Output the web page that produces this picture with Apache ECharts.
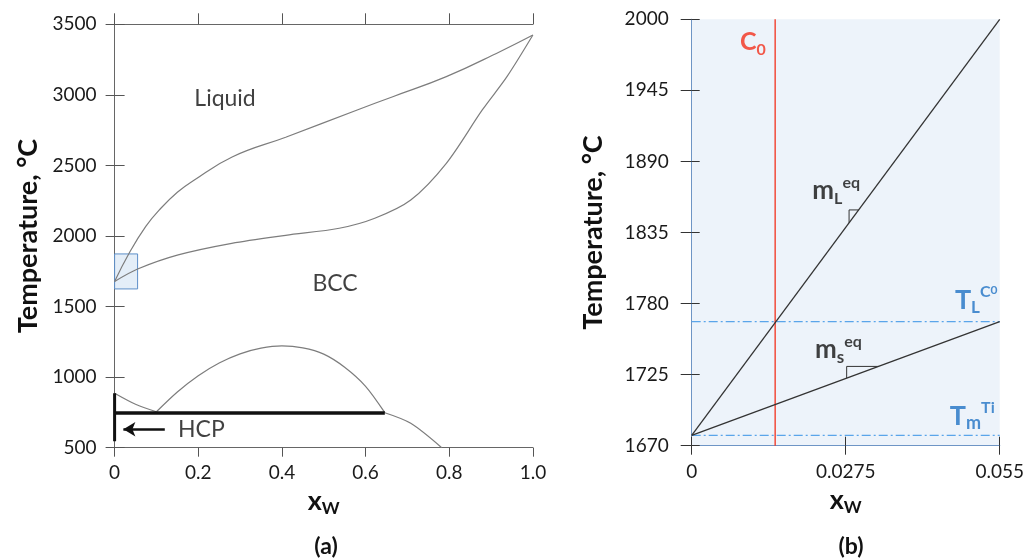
<!DOCTYPE html>
<html>
<head>
<meta charset="utf-8">
<script src="https://cdn.jsdelivr.net/npm/echarts@6/dist/echarts.min.js"></script>
<style>
  html, body { margin: 0; padding: 0; background: #ffffff; }
  #chart { width: 1027px; height: 560px; }
</style>
</head>
<body>
<div id="chart"></div>
<script>
// ---------- (a) Ti–W phase diagram, mole fraction of W vs temperature (°C) ----------
const liquidusX = [0, 0.035, 0.075, 0.11, 0.15, 0.187, 0.281, 0.409, 0.58, 0.665, 0.793, 0.921, 1.0];
const liquidusT = [1678, 1880, 2070, 2195, 2310, 2390, 2560, 2700, 2893, 2987, 3129, 3306, 3424];

const solidusX = [0, 0.055, 0.152, 0.28, 0.409, 0.537, 0.622, 0.708, 0.793, 0.879, 0.938, 1.0];
const solidusT = [1678, 1766, 1866, 1948, 2005, 2055, 2126, 2255, 2515, 2893, 3129, 3424];

// BCC miscibility gap dome
const domeX = [0.1, 0.15, 0.2, 0.25, 0.3, 0.35, 0.4, 0.45, 0.5, 0.55, 0.6, 0.646];
const domeT = [755, 895, 1010, 1100, 1165, 1205, 1221, 1207, 1163, 1070, 935, 748];

// HCP / BCC boundary near pure Ti and the W-rich BCC boundary below the eutectoid
const hcpBoundaryX = [0, 0.05, 0.1];
const hcpBoundaryT = [886, 808, 755];
const bccLowerX = [0.646, 0.708, 0.782];
const bccLowerT = [748, 673, 500];

// eutectoid isotherm and the narrow HCP field at x = 0
const eutectoidX = [0, 0.646];
const eutectoidT = 745;
const hcpEdgeT = [886, 545];

// region magnified in (b)
const zoomBoxX = [0, 0.055];
const zoomBoxT = [1625, 1873];

// arrow pointing at the HCP field
const hcpArrowX = [0.12, 0.021];
const hcpArrowT = 631;

const aXTicks = [0, 0.2, 0.4, 0.6, 0.8, 1.0];
const aXTickLabels = ['0', '0.2', '0.4', '0.6', '0.8', '1.0'];
const aYTicks = [500, 1000, 1500, 2000, 2500, 3000, 3500];

// ---------- (b) linearised dilute corner ----------
const dilX = [0, 0.055];
const liquidusLinT = [1678, 2000];
const solidusLinT = [1678, 1766];
const c0 = 0.0149;
const tLiquidusC0 = 1766;
const tMeltTi = 1678;
const slopeMarkL = [0.0281, 0.0298];
const slopeMarkS = [0.02767, 0.03335];

const bXTicks = [0, 0.0275, 0.055];
const bXTickLabels = ['0', '0.0275', '0.055'];
const bYTicks = [1670, 1725, 1780, 1835, 1890, 1945, 2000];

// panel (b) is plotted in scaled units so ticks fall on whole numbers
const XS = 10000;
const T0 = bYTicks[0];
const bx = v => Math.round(v * XS * 1000) / 1000;
const by = t => t - T0;

const FONT = 'Lato';
const BLUE = '#1f72c4';
const RED = '#f3301c';

function pairs(xs, ys) { return xs.map((x, i) => [x, ys[i]]); }
function lineAt(xs, ts, x) { return ts[0] + (ts[1] - ts[0]) * (x - xs[0]) / (xs[1] - xs[0]); }

function curve(data, opts) {
  return Object.assign({
    type: 'line', xAxisIndex: 0, yAxisIndex: 0, data: data,
    symbol: 'none', silent: true, smooth: 0.3,
    lineStyle: { color: '#7d7d7d', width: 1.2 }
  }, opts || {});
}

function frameAxes(grid, base, len) {
  return {
    gridIndex: grid,
    axisLine: { show: true, lineStyle: { color: base.line, width: 1 } },
    axisTick: { show: true, inside: false, length: len, lineStyle: { color: base.tick, width: 1 } },
    splitLine: { show: false }
  };
}

const tickLabelStyle = { fontFamily: FONT, fontSize: 19, color: '#1a1a1a' };
const yNameStyle = { fontFamily: FONT, fontSize: 27, fontWeight: 'bold', color: '#111' };
const xNameRich = {
  x: { fontFamily: FONT, fontSize: 27, fontWeight: 'bold', color: '#111', lineHeight: 32, verticalAlign: 'middle' },
  w: { fontFamily: FONT, fontSize: 17, fontWeight: 'bold', color: '#111', lineHeight: 17, verticalAlign: 'bottom' }
};

const aStyle = { line: '#666666', tick: '#555555' };
const bStyle = { line: '#6e95c5', tick: '#333333' };

// slope marks (small right angles on the linearised lines)
const markL = [
  [bx(slopeMarkL[0]), by(lineAt(dilX, liquidusLinT, slopeMarkL[0]))],
  [bx(slopeMarkL[0]), by(lineAt(dilX, liquidusLinT, slopeMarkL[1]))],
  [bx(slopeMarkL[1]), by(lineAt(dilX, liquidusLinT, slopeMarkL[1]))]
];
const markS = [
  [bx(slopeMarkS[0]), by(lineAt(dilX, solidusLinT, slopeMarkS[0]))],
  [bx(slopeMarkS[0]), by(lineAt(dilX, solidusLinT, slopeMarkS[1]))],
  [bx(slopeMarkS[1]), by(lineAt(dilX, solidusLinT, slopeMarkS[1]))]
];

function textItem(x, y, text, rich, align) {
  return {
    value: [x, y],
    label: { show: true, position: 'inside', formatter: text, rich: rich || {}, align: align || 'center', verticalAlign: 'middle' }
  };
}

const boldMain = (size, color) => ({ fontFamily: FONT, fontSize: size, fontWeight: 'bold', color: color, lineHeight: 32, verticalAlign: 'middle' });
const boldSub = (size, color) => ({ fontFamily: FONT, fontSize: size, fontWeight: 'bold', color: color, lineHeight: size, verticalAlign: 'bottom' });
const boldSup = (size, color) => ({ fontFamily: FONT, fontSize: size, fontWeight: 'bold', color: color, lineHeight: size, verticalAlign: 'top' });

// panel (b) series all sit on the third x axis / third y axis
function bLine(data, style) {
  return { type: 'line', xAxisIndex: 2, yAxisIndex: 2, symbol: 'none', silent: true, data: data, lineStyle: style };
}

const option = {
  animation: false,
  backgroundColor: '#ffffff',
  title: [
    { text: '(a)', left: 321, top: 530, textAlign: 'center', textStyle: { fontFamily: FONT, fontSize: 23, fontWeight: 'bold', color: '#111' } },
    { text: '(b)', left: 846, top: 530, textAlign: 'center', textStyle: { fontFamily: FONT, fontSize: 23, fontWeight: 'bold', color: '#111' } }
  ],
  grid: [
    { left: 114.6, top: 24.3, width: 418.3, height: 423.4, show: false },
    { left: 691.7, top: 19.3, width: 313.3, height: 426.4, show: true, backgroundColor: '#edf3fa', borderWidth: 0 }
  ],
  xAxis: [
    Object.assign(frameAxes(0, aStyle, 9), {
      type: 'value', position: 'bottom', min: aXTicks[0], max: aXTicks[aXTicks.length - 1], interval: 0.2,
      axisLabel: Object.assign({ margin: 16, formatter: v => aXTickLabels[Math.round(v / 0.2)] }, tickLabelStyle),
      name: '{x|x}{w|W}', nameLocation: 'middle', nameGap: 34, nameTextStyle: { rich: xNameRich }
    }),
    Object.assign(frameAxes(0, aStyle, 11), {
      type: 'value', position: 'top', min: aXTicks[0], max: aXTicks[aXTicks.length - 1], interval: 0.2,
      axisLabel: { show: false }
    }),
    Object.assign(frameAxes(1, bStyle, 9), {
      type: 'value', position: 'bottom', min: bx(bXTicks[0]), max: bx(bXTicks[2]), interval: bx(bXTicks[1]),
      axisLabel: Object.assign({ margin: 17, formatter: v => bXTickLabels[Math.round(v / bx(bXTicks[1]))] }, tickLabelStyle),
      name: '{x|x}{w|W}', nameLocation: 'middle', nameGap: 36, nameTextStyle: { rich: xNameRich }
    }),
    Object.assign(frameAxes(1, bStyle, 9), {
      type: 'value', position: 'top', min: bx(bXTicks[0]), max: bx(bXTicks[2]), interval: bx(bXTicks[1]),
      axisLabel: { show: false }
    })
  ],
  yAxis: [
    Object.assign(frameAxes(0, aStyle, 9), {
      type: 'value', position: 'left', min: aYTicks[0], max: aYTicks[aYTicks.length - 1], interval: 500,
      axisLabel: Object.assign({ margin: 18, formatter: v => String(v) }, tickLabelStyle),
      name: 'Temperature, °C', nameLocation: 'middle', nameGap: 73, nameTextStyle: yNameStyle
    }),
    Object.assign(frameAxes(0, aStyle, 10), {
      type: 'value', position: 'right', min: aYTicks[0], max: aYTicks[aYTicks.length - 1], interval: 500,
      axisLabel: { show: false }
    }),
    Object.assign(frameAxes(1, bStyle, 11), {
      type: 'value', position: 'left', min: by(bYTicks[0]), max: by(bYTicks[6]), interval: by(bYTicks[1]),
      axisLabel: Object.assign({ margin: 23, formatter: v => String(bYTicks[Math.round(v / by(bYTicks[1]))]) }, tickLabelStyle),
      name: 'Temperature, °C', nameLocation: 'middle', nameGap: 85, nameTextStyle: yNameStyle
    }),
    Object.assign(frameAxes(1, bStyle, 8), {
      type: 'value', position: 'right', min: by(bYTicks[0]), max: by(bYTicks[6]), interval: by(bYTicks[1]),
      axisLabel: { show: false }
    })
  ],
  series: [
    // (a) magnified region box
    {
      type: 'line', xAxisIndex: 0, yAxisIndex: 0, data: [], silent: true, z: 1,
      markArea: {
        silent: true,
        itemStyle: { color: 'rgba(214,229,245,0.65)', borderColor: '#5d8fc8', borderWidth: 1 },
        data: [[{ coord: [zoomBoxX[0], zoomBoxT[1]] }, { coord: [zoomBoxX[1], zoomBoxT[0]] }]]
      }
    },
    curve(pairs(liquidusX, liquidusT), { smooth: 0.45 }),
    curve(pairs(solidusX, solidusT)),
    curve(pairs(domeX, domeT)),
    curve(pairs(hcpBoundaryX, hcpBoundaryT)),
    curve(pairs(bccLowerX, bccLowerT)),
    curve([[eutectoidX[0], eutectoidT], [eutectoidX[1], eutectoidT]], { smooth: false, lineStyle: { color: '#111', width: 3.5 } }),
    curve([[0, hcpEdgeT[0]], [0, hcpEdgeT[1]]], { smooth: false, lineStyle: { color: '#111', width: 3 } }),
    // HCP arrow
    {
      type: 'line', xAxisIndex: 0, yAxisIndex: 0, data: [], silent: true,
      markLine: {
        silent: true, symbol: ['none', 'arrow'], symbolSize: [11, 12],
        label: { show: false },
        lineStyle: { color: '#111', width: 2.5, type: 'solid' },
        data: [[{ coord: [hcpArrowX[0], hcpArrowT] }, { coord: [hcpArrowX[1], hcpArrowT] }]]
      }
    },
    // (a) region labels
    {
      type: 'scatter', xAxisIndex: 0, yAxisIndex: 0, symbolSize: 0, silent: true,
      label: { show: true, fontFamily: FONT, fontSize: 23, color: '#111' },
      data: [
        textItem(0.264, 2971, 'Liquid'),
        textItem(0.527, 1660, 'BCC'),
        textItem(0.1516, hcpArrowT, 'HCP', null, 'left')
      ]
    },

    // (b) dash-dot reference isotherms
    bLine([[bx(dilX[0]), by(tLiquidusC0)], [bx(dilX[1]), by(tLiquidusC0)]], { color: '#5aa5ea', width: 1.2, type: [9, 3, 2, 3] }),
    bLine([[bx(dilX[0]), by(tMeltTi)], [bx(dilX[1]), by(tMeltTi)]], { color: '#5aa5ea', width: 1.2, type: [9, 3, 2, 3] }),
    // alloy composition C0
    bLine([[bx(c0), by(bYTicks[0])], [bx(c0), by(bYTicks[6])]], { color: RED, width: 1.3 }),
    // linearised liquidus and solidus
    bLine(pairs(dilX.map(bx), liquidusLinT.map(by)), { color: '#333', width: 1.3 }),
    bLine(pairs(dilX.map(bx), solidusLinT.map(by)), { color: '#333', width: 1.3 }),
    bLine(markL, { color: '#333', width: 1 }),
    bLine(markS, { color: '#333', width: 1 }),
    // (b) annotations
    {
      type: 'scatter', xAxisIndex: 2, yAxisIndex: 2, symbolSize: 0, silent: true,
      label: { show: true },
      data: [
        textItem(bx(0.01094), by(1982.4), '{m|C}{s|0}', { m: boldMain(25, RED), s: boldSub(16, RED) }),
        textItem(bx(0.0258), by(1867.5), '{m|m}{s|L}{p|eq}', { m: boldMain(26, '#111'), s: boldSub(16, '#111'), p: boldSup(16, '#111') }),
        textItem(bx(0.0262), by(1744.4), '{m|m}{s|s}{p|eq}', { m: boldMain(26, '#111'), s: boldSub(17, '#111'), p: boldSup(16, '#111') }),
        textItem(bx(0.0508), by(1782.7), '{m|T}{s|L}{p|C}{q|0}', { m: boldMain(27, BLUE), s: boldSub(17, BLUE), p: boldSup(16, BLUE), q: boldSup(12, BLUE) }),
        textItem(bx(0.0501), by(1693), '{m|T}{s|m}{p|Ti}', { m: boldMain(27, BLUE), s: boldSub(18, BLUE), p: boldSup(16, BLUE) })
      ]
    }
  ]
};

const chart = echarts.init(document.getElementById('chart'), null, { renderer: 'canvas' });
chart.setOption(option);
</script>
</body>
</html>
